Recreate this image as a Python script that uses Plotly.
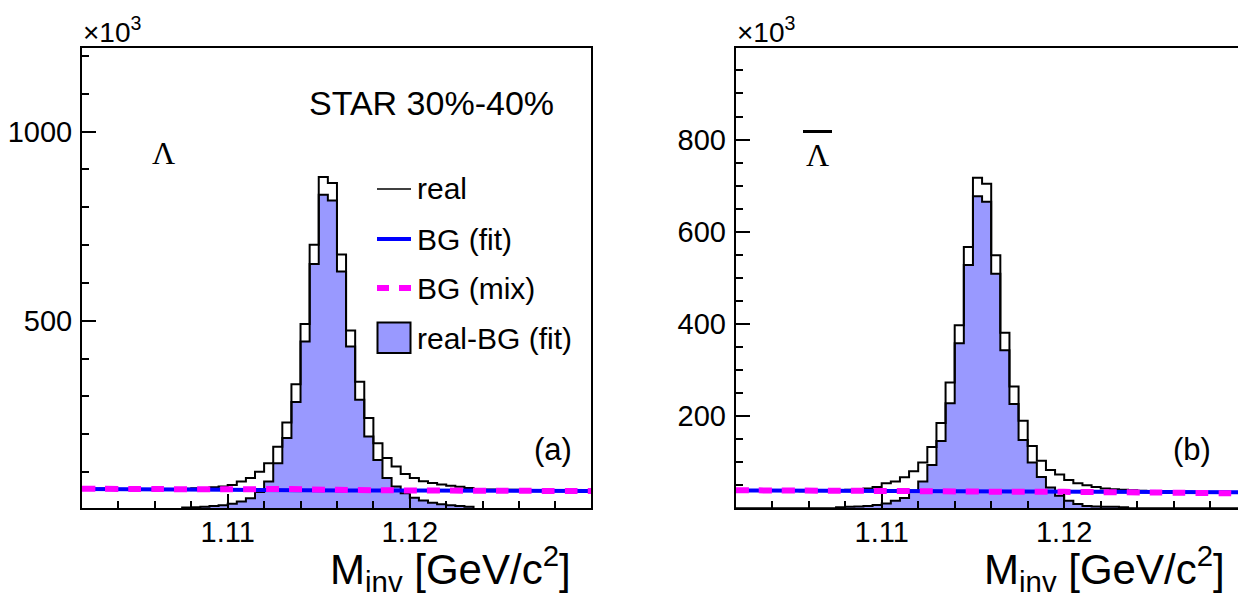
import numpy as np
import plotly.graph_objects as go

W, H = 1238, 600

# ---------------- data ----------------
bin_start = 1.102
bin_width = 0.0005
n_bins = 56
edges = np.round(bin_start + bin_width * np.arange(n_bins + 1), 5)

# Lambda (a), counts x10^3 per bin
lam_real = [56, 55, 56, 55, 55, 55, 54, 55, 55, 54, 55,
            56, 57, 58, 60, 62, 66, 75, 84, 101, 123, 167, 231, 332, 491, 701,
            880, 864, 675, 474, 339, 243, 176, 137, 115, 95, 84, 76, 71, 67,
            64, 61, 58, 55, 54, 54, 53, 53, 52, 52, 52, 51, 51, 51, 50, 50]
lam_signal = [0, 0, 0, 0, 0, 0, 0, 0, 0, 0, 0,
              6, 7, 8, 10, 12, 16, 22, 31, 47, 75, 123, 190, 285, 445, 650,
              833, 818, 630, 432, 291, 194, 132, 84, 62, 44, 32, 25, 19, 15,
              12, 10, 8, 0, 0, 0, 0, 0, 0, 0, 0, 0, 0, 0, 0, 0]
lam_bgfit_x = [1.102, 1.110, 1.120, 1.130]
lam_bgfit_y = [55, 53, 51, 50]
lam_bgmix_x = [1.102, 1.106, 1.110, 1.1135, 1.116, 1.120, 1.125, 1.130]
lam_bgmix_y = [56, 55, 54.5, 55, 53, 51.5, 50.5, 50]

# anti-Lambda (b)
alam_real = [39, 38, 39, 38, 38, 38, 38, 37, 38, 38, 38,
             39, 40, 41, 43, 46, 54, 58, 67, 80, 99, 133, 185, 273, 397, 567,
             717, 704, 549, 381, 264, 190, 135, 103, 83, 73, 61, 54, 50, 46,
             43, 41, 40, 39, 38, 37, 37, 36, 36, 36, 35, 35, 35, 35, 34, 34]
alam_signal = [0, 0, 0, 0, 0, 0, 0, 0, 0, 0, 0,
               2, 3, 4, 5, 7, 10, 16, 22, 38, 58, 94, 146, 228, 358, 528,
               677, 665, 509, 343, 226, 148, 99, 68, 45, 27, 16, 9, 5, 4,
               3, 3, 2, 0, 0, 0, 0, 0, 0, 0, 0, 0, 0, 0, 0, 0]
alam_bgfit_x = [1.102, 1.130]
alam_bgfit_y = [38.5, 34.5]
alam_bgmix_x = [1.102, 1.110, 1.116, 1.120, 1.125, 1.130]
alam_bgmix_y = [39, 37.5, 36, 35.5, 34, 32]

legend_labels = ["real", "BG (fit)", "BG (mix)", "real-BG (fit)"]

FILL = "rgb(153,153,255)"
BLUE = "rgb(0,0,255)"
MAGENTA = "rgb(255,0,255)"
FONT = "Liberation Sans, Arial, sans-serif"
SERIF = "Liberation Serif, Times New Roman, serif"


def X(p):
    return p / W


def Y(p):
    return 1 - p / H


fig = go.Figure()


def add_panel(real, signal, fx, fy, mx, my, xa, ya):
    yy_sig = list(signal) + [signal[-1]]
    yy_real = list(real) + [real[-1]]
    fig.add_trace(go.Scatter(x=edges, y=yy_sig, mode="lines", line_shape="hv",
                             line=dict(color="black", width=2), fill="tozeroy",
                             fillcolor=FILL, xaxis=xa, yaxis=ya, showlegend=False))
    fig.add_trace(go.Scatter(x=edges, y=yy_real, mode="lines", line_shape="hv",
                             line=dict(color="black", width=2),
                             xaxis=xa, yaxis=ya, showlegend=False))
    fig.add_trace(go.Scatter(x=fx, y=fy, mode="lines", line_shape="spline",
                             line=dict(color=BLUE, width=4),
                             xaxis=xa, yaxis=ya, showlegend=False))
    fig.add_trace(go.Scatter(x=mx, y=my, mode="lines", line_shape="spline",
                             line=dict(color=MAGENTA, width=6, dash="13px,10px"),
                             xaxis=xa, yaxis=ya, showlegend=False))


add_panel(lam_real, lam_signal, lam_bgfit_x, lam_bgfit_y, lam_bgmix_x, lam_bgmix_y, "x", "y")
add_panel(alam_real, alam_signal, alam_bgfit_x, alam_bgfit_y, alam_bgmix_x, alam_bgmix_y, "x2", "y2")

ydom = [Y(508), Y(48.3)]
tickfont = dict(family=FONT, size=29, color="black")

xcommon = dict(showline=True, linecolor="black", linewidth=2, mirror=True,
               ticks="inside", ticklen=14, tickwidth=2, tickcolor="black",
               tick0=1.10, dtick=0.01, tickformat=".2f", tickfont=tickfont,
               showgrid=False, zeroline=False, fixedrange=True, ticklabelstandoff=-3,
               minor=dict(ticks="inside", ticklen=7, tickwidth=2, tickcolor="black",
                          tick0=1.10, dtick=0.002, showgrid=False))

ycommon = dict(showline=True, linecolor="black", linewidth=2, ticks="inside",
               ticklen=14, tickwidth=2, tickcolor="black", tick0=0, tickfont=tickfont,
               showgrid=False, zeroline=False, ticklabelstandoff=2, fixedrange=True)

fig.update_layout(
    width=W, height=H, margin=dict(l=0, r=0, t=0, b=0),
    paper_bgcolor="white", plot_bgcolor="white", showlegend=False,
    xaxis=dict(domain=[X(82), X(591)], range=[1.102, 1.12995], anchor="y", **xcommon),
    xaxis2=dict(domain=[X(735.7), 1.0], range=[1.102, 1.102 + (W - 735.7) / 18250],
                anchor="y2", **xcommon),
    yaxis=dict(domain=ydom, range=[5, 1220], anchor="x", mirror=True, dtick=500,
               minor=dict(ticks="inside", ticklen=7, tickwidth=2, tickcolor="black",
                          tick0=0, dtick=100, showgrid=False), **ycommon),
    yaxis2=dict(domain=ydom, range=[0.5, 998], anchor="x2", mirror=False, dtick=200,
                minor=dict(ticks="inside", ticklen=7, tickwidth=2, tickcolor="black",
                           tick0=0, dtick=50, showgrid=False), **ycommon),
)

ann = []


def text(x, y, s, size, xanchor="left", yanchor="middle", family=FONT):
    ann.append(dict(x=X(x), y=Y(y), xref="paper", yref="paper", text=s, showarrow=False,
                    xanchor=xanchor, yanchor=yanchor,
                    font=dict(family=family, size=size, color="black")))


# x10^3 labels
text(81, 50, "×10<sup>3</sup>", 28, yanchor="bottom")
text(734.5, 50, "×10<sup>3</sup>", 28, yanchor="bottom")
# STAR label
text(556, 103, "STAR 30%-40%", 34, xanchor="right")
# particle labels
text(163, 153, "Λ", 32, xanchor="center", family=SERIF)
text(817, 155, "Λ", 32, xanchor="center", family=SERIF)
# panel labels
text(574, 449, "(a)", 31, xanchor="right")
text(1213, 449, "(b)", 31, xanchor="right")
# axis titles
title = "M<sub>inv</sub> [GeV/c<sup>2</sup>]"
text(573, 600, title, 42, xanchor="right", yanchor="bottom")
text(1227, 600, title, 42, xanchor="right", yanchor="bottom")

# legend
leg_y = [189, 239, 288, 338]
for lab, yy in zip(legend_labels, leg_y):
    text(415, yy, lab, 30)

fig.update_layout(annotations=ann)

shapes = []
# overline on anti-Lambda
shapes.append(dict(type="line", xref="paper", yref="paper", x0=X(803), x1=X(832),
                   y0=Y(131.5), y1=Y(131.5), line=dict(color="black", width=3)))
# legend glyphs
shapes.append(dict(type="line", xref="paper", yref="paper", x0=X(377), x1=X(411),
                   y0=Y(leg_y[0]), y1=Y(leg_y[0]), line=dict(color="black", width=1.5)))
shapes.append(dict(type="line", xref="paper", yref="paper", x0=X(377), x1=X(411),
                   y0=Y(leg_y[1]), y1=Y(leg_y[1]), line=dict(color=BLUE, width=4)))
for a, b in [(377, 389), (399, 411)]:
    shapes.append(dict(type="line", xref="paper", yref="paper", x0=X(a), x1=X(b),
                       y0=Y(leg_y[2]), y1=Y(leg_y[2]), line=dict(color=MAGENTA, width=6)))
shapes.append(dict(type="rect", xref="paper", yref="paper", x0=X(377.5), x1=X(410.5),
                   y0=Y(353), y1=Y(322.5), fillcolor=FILL, line=dict(color="black", width=2)))
fig.update_layout(shapes=shapes)

fig.write_html("out.html")
